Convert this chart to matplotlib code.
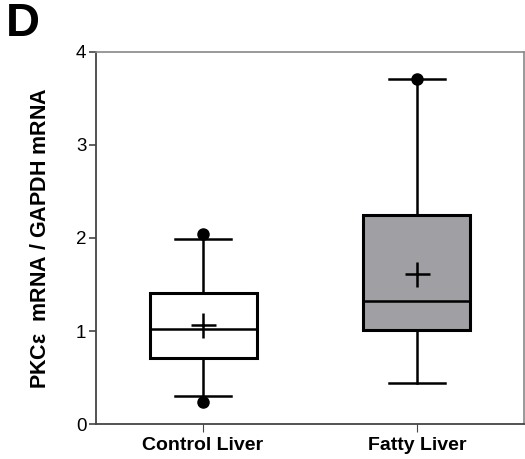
import matplotlib
matplotlib.use('Agg')
import matplotlib.pyplot as plt

# Box statistics
groups = ['Control Liver', 'Fatty Liver']
whisker_low = [0.30, 0.44]
q1 = [0.71, 1.01]
median = [1.02, 1.32]
q3 = [1.41, 2.25]
whisker_high = [1.99, 3.71]
mean = [1.06, 1.61]
outliers = [[0.24, 2.04], [3.71]]
face_colors = ['white', '#a0a0a4']

plt.rcParams['font.family'] = ['Liberation Sans', 'DejaVu Sans']

fig = plt.figure(figsize=(5.25, 4.59), dpi=100)
ax = fig.add_axes([0.183, 0.076, 0.815, 0.811])

stats = []
for i, name in enumerate(groups):
    stats.append({'label': name, 'whislo': whisker_low[i], 'q1': q1[i], 'med': median[i],
                  'q3': q3[i], 'whishi': whisker_high[i], 'mean': mean[i],
                  'fliers': outliers[i]})

bp = ax.bxp(stats, positions=[0, 1], widths=0.5, patch_artist=True, showmeans=True,
            boxprops=dict(linewidth=2.2, edgecolor='black'),
            medianprops=dict(color='black', linewidth=1.8),
            whiskerprops=dict(color='black', linewidth=1.8),
            capprops=dict(color='black', linewidth=1.8),
            capwidths=0.26,
            meanprops=dict(marker='+', markeredgecolor='black', markersize=18,
                           markeredgewidth=1.8),
            flierprops=dict(marker='o', markerfacecolor='black', markeredgecolor='black',
                            markersize=8))
for patch, c in zip(bp['boxes'], face_colors):
    patch.set_facecolor(c)

ax.set_xlim(-0.5, 1.5)
ax.set_ylim(0, 4)
ax.set_yticks([0, 1, 2, 3, 4])
ax.set_xticks([0, 1])
ax.set_xticklabels(groups, fontsize=14, fontweight='bold')
ax.tick_params(axis='y', labelsize=13.5, length=5, width=1.2, color='#444444', pad=2)
ax.tick_params(axis='x', length=6, width=0.8, color='#444444', pad=3)

for side in ['left', 'bottom']:
    ax.spines[side].set_color('#444444')
    ax.spines[side].set_linewidth(1.3)
for side in ['top', 'right']:
    ax.spines[side].set_color('#888888')
    ax.spines[side].set_linewidth(1.2)

ax.set_ylabel(r'PKC$\mathregular{\varepsilon}$  mRNA / GAPDH mRNA', fontsize=15.5,
              fontweight='bold')
ax.yaxis.set_label_coords(-0.105, 0.5)

fig.text(0.012, 0.995, 'D', fontsize=34, fontweight='bold', va='top', ha='left')

fig.savefig('out.png', dpi=100)
plt.close(fig)
